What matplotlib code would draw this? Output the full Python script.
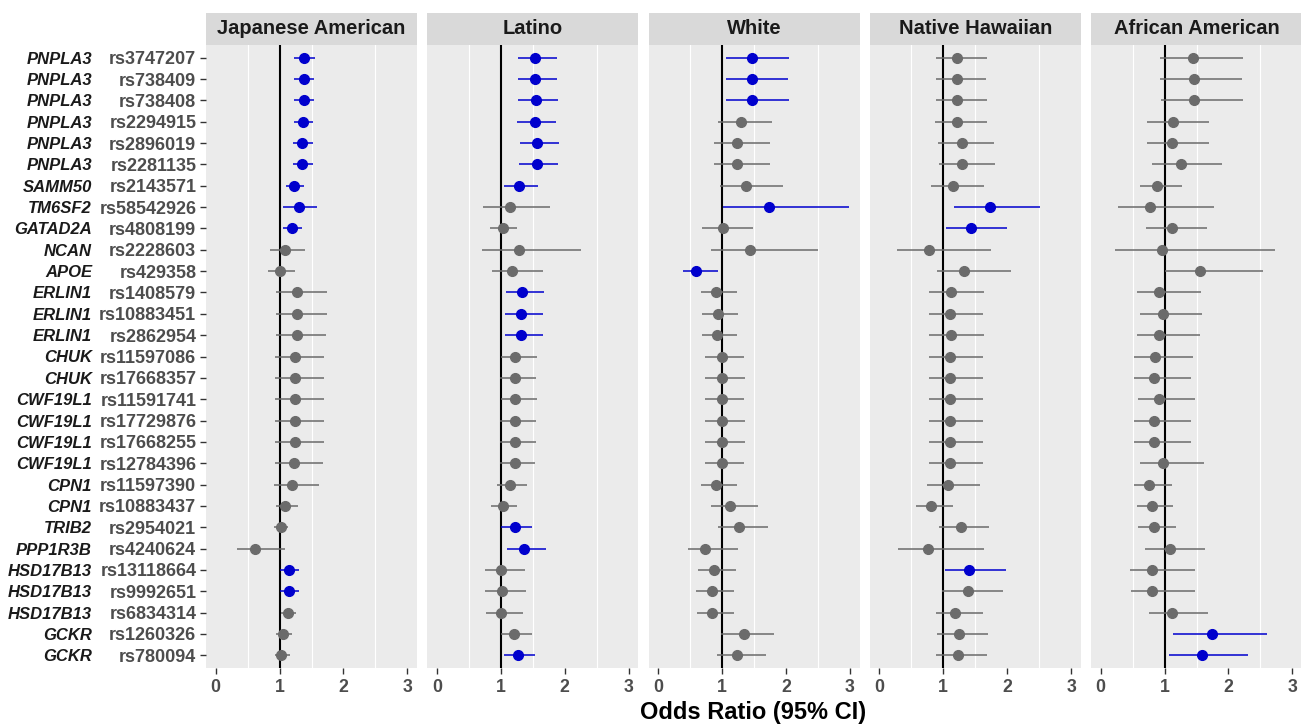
import matplotlib
matplotlib.use("Agg")
import matplotlib.pyplot as plt
from matplotlib.patches import Rectangle

plt.rcParams['font.family'] = ['Liberation Sans', 'DejaVu Sans']

genes = ["PNPLA3", "PNPLA3", "PNPLA3", "PNPLA3", "PNPLA3", "PNPLA3", "SAMM50", "TM6SF2",
         "GATAD2A", "NCAN", "APOE", "ERLIN1", "ERLIN1", "ERLIN1", "CHUK", "CHUK",
         "CWF19L1", "CWF19L1", "CWF19L1", "CWF19L1", "CPN1", "CPN1", "TRIB2", "PPP1R3B",
         "HSD17B13", "HSD17B13", "HSD17B13", "GCKR", "GCKR"]
snps = ["rs3747207", "rs738409", "rs738408", "rs2294915", "rs2896019", "rs2281135", "rs2143571",
        "rs58542926", "rs4808199", "rs2228603", "rs429358", "rs1408579", "rs10883451", "rs2862954",
        "rs11597086", "rs17668357", "rs11591741", "rs17729876", "rs17668255", "rs12784396",
        "rs11597390", "rs10883437", "rs2954021", "rs4240624", "rs13118664", "rs9992651",
        "rs6834314", "rs1260326", "rs780094"]

populations = ["Japanese American", "Latino", "White", "Native Hawaiian", "African American"]

or_ja = [1.375, 1.375, 1.375, 1.36, 1.35, 1.35, 1.22, 1.30, 1.19, 1.09, 1.01, 1.28, 1.27, 1.27, 1.24,
         1.24, 1.24, 1.24, 1.24, 1.23, 1.20, 1.09, 1.02, 0.61, 1.15, 1.15, 1.13, 1.05, 1.03]
lo_ja = [1.23, 1.23, 1.23, 1.22, 1.21, 1.21, 1.10, 1.06, 1.06, 0.85, 0.82, 0.95, 0.95, 0.95, 0.93,
         0.93, 0.93, 0.93, 0.93, 0.93, 0.91, 0.95, 0.92, 0.33, 1.00, 1.00, 1.03, 0.94, 0.93]
hi_ja = [1.55, 1.54, 1.54, 1.52, 1.52, 1.52, 1.375, 1.59, 1.35, 1.40, 1.24, 1.74, 1.74, 1.73, 1.69,
         1.69, 1.69, 1.69, 1.69, 1.68, 1.61, 1.29, 1.13, 1.08, 1.30, 1.30, 1.26, 1.19, 1.17]
sig_ja = [1, 1, 1, 1, 1, 1, 1, 1, 1, 0, 0, 0, 0, 0, 0, 0, 0, 0, 0, 0, 0, 0, 0, 0, 1, 1, 0, 0, 0]

or_la = [1.54, 1.54, 1.55, 1.53, 1.57, 1.56, 1.29, 1.14, 1.03, 1.29, 1.18, 1.33, 1.32, 1.32, 1.23,
         1.22, 1.23, 1.23, 1.22, 1.22, 1.15, 1.03, 1.22, 1.36, 1.00, 1.02, 1.01, 1.21, 1.27]
lo_la = [1.27, 1.27, 1.27, 1.26, 1.30, 1.28, 1.05, 0.72, 0.83, 0.70, 0.87, 1.08, 1.06, 1.06, 1.00,
         0.99, 1.00, 0.99, 0.99, 0.99, 0.94, 0.84, 1.01, 1.09, 0.75, 0.75, 0.77, 1.00, 1.05]
hi_la = [1.88, 1.88, 1.89, 1.87, 1.91, 1.90, 1.58, 1.77, 1.26, 2.25, 1.66, 1.67, 1.66, 1.66, 1.56,
         1.55, 1.57, 1.55, 1.55, 1.54, 1.41, 1.25, 1.49, 1.70, 1.38, 1.39, 1.35, 1.49, 1.54]
sig_la = [1, 1, 1, 1, 1, 1, 1, 0, 0, 0, 0, 1, 1, 1, 0, 0, 0, 0, 0, 0, 0, 0, 1, 1, 0, 0, 0, 0, 1]

or_wh = [1.47, 1.47, 1.47, 1.30, 1.23, 1.23, 1.38, 1.74, 1.02, 1.43, 0.60, 0.91, 0.93, 0.92, 1.00,
         1.00, 1.00, 1.00, 1.00, 1.00, 0.91, 1.13, 1.26, 0.74, 0.87, 0.84, 0.84, 1.35, 1.24]
lo_wh = [1.06, 1.06, 1.06, 0.94, 0.87, 0.87, 0.97, 1.02, 0.69, 0.82, 0.39, 0.67, 0.69, 0.69, 0.74,
         0.74, 0.74, 0.74, 0.74, 0.74, 0.67, 0.83, 0.94, 0.46, 0.62, 0.60, 0.61, 0.98, 0.92]
hi_wh = [2.04, 2.03, 2.05, 1.78, 1.75, 1.75, 1.96, 2.99, 1.49, 2.50, 0.94, 1.23, 1.25, 1.23, 1.35,
         1.36, 1.34, 1.36, 1.36, 1.34, 1.23, 1.56, 1.72, 1.25, 1.22, 1.19, 1.18, 1.82, 1.68]
sig_wh = [1, 1, 1, 0, 0, 0, 0, 1, 0, 0, 1, 0, 0, 0, 0, 0, 0, 0, 0, 0, 0, 0, 0, 0, 0, 0, 0, 0, 0]

or_nh = [1.22, 1.22, 1.22, 1.21, 1.29, 1.30, 1.15, 1.73, 1.44, 0.77, 1.33, 1.12, 1.10, 1.12, 1.11,
         1.11, 1.11, 1.11, 1.11, 1.11, 1.08, 0.81, 1.28, 0.76, 1.41, 1.38, 1.19, 1.24, 1.23]
lo_nh = [0.88, 0.88, 0.88, 0.87, 0.92, 0.93, 0.81, 1.16, 1.04, 0.27, 0.90, 0.78, 0.77, 0.78, 0.77,
         0.77, 0.77, 0.77, 0.77, 0.77, 0.75, 0.58, 0.94, 0.29, 1.02, 0.98, 0.88, 0.90, 0.89]
hi_nh = [1.68, 1.67, 1.68, 1.68, 1.80, 1.81, 1.63, 2.51, 1.99, 1.75, 2.06, 1.64, 1.62, 1.63, 1.62,
         1.62, 1.62, 1.62, 1.62, 1.62, 1.58, 1.15, 1.72, 1.64, 1.98, 1.93, 1.62, 1.70, 1.68]
sig_nh = [0, 0, 0, 0, 0, 0, 0, 1, 1, 0, 0, 0, 0, 0, 0, 0, 0, 0, 0, 0, 0, 0, 0, 0, 1, 0, 0, 0, 0]

or_aa = [1.45, 1.46, 1.46, 1.13, 1.11, 1.25, 0.89, 0.78, 1.11, 0.96, 1.55, 0.92, 0.97, 0.92, 0.85,
         0.84, 0.91, 0.84, 0.84, 0.97, 0.76, 0.81, 0.84, 1.09, 0.80, 0.80, 1.11, 1.74, 1.58]
lo_aa = [0.93, 0.93, 0.94, 0.73, 0.72, 0.80, 0.61, 0.27, 0.71, 0.23, 1.00, 0.57, 0.62, 0.57, 0.52,
         0.52, 0.58, 0.52, 0.52, 0.61, 0.53, 0.57, 0.59, 0.69, 0.46, 0.47, 0.75, 1.13, 1.07]
hi_aa = [2.22, 2.21, 2.23, 1.70, 1.69, 1.90, 1.27, 1.77, 1.66, 2.72, 2.54, 1.57, 1.59, 1.55, 1.44,
         1.42, 1.48, 1.42, 1.42, 1.61, 1.11, 1.14, 1.18, 1.64, 1.48, 1.48, 1.68, 2.60, 2.30]
sig_aa = [0, 0, 0, 0, 0, 0, 0, 0, 0, 0, 0, 0, 0, 0, 0, 0, 0, 0, 0, 0, 0, 0, 0, 0, 0, 0, 0, 1, 1]

xticks = [0, 1, 2, 3]
xlabel = "Odds Ratio (95% CI)"

panel_data = [
    (or_ja, lo_ja, hi_ja, sig_ja),
    (or_la, lo_la, hi_la, sig_la),
    (or_wh, lo_wh, hi_wh, sig_wh),
    (or_nh, lo_nh, hi_nh, sig_nh),
    (or_aa, lo_aa, hi_aa, sig_aa),
]

BLUE = "#0000CD"
GRAY = "#6B6B6B"
W, H = 1301, 725
fig = plt.figure(figsize=(W / 100, H / 100), dpi=100)

n = len(snps)
ypos = list(range(n, 0, -1))

panel_left0 = 206
panel_step = 221.25
panel_w = 211
top_px = 45
bot_px = 668
strip_h = 32

for i, (pop, (ors, los, his, sig)) in enumerate(zip(populations, panel_data)):
    left = panel_left0 + i * panel_step
    ax = fig.add_axes([left / W, 1 - bot_px / H, panel_w / W, (bot_px - top_px) / H])
    ax.set_facecolor("#EBEBEB")
    for s in ax.spines.values():
        s.set_visible(False)
    ax.set_xlim(-0.15, 3.15)
    ax.set_ylim(0.4, n + 0.6)
    for g in [0.5, 1.5, 2.5]:
        ax.axvline(g, color="white", lw=0.8, zorder=0)
    ax.axvline(1, color="black", lw=1.5, zorder=1)
    for y, o, l, h, s in zip(ypos, ors, los, his, sig):
        c = BLUE if s else GRAY
        ax.hlines(y, l, h, color=c, lw=1.1, zorder=2)
        ax.plot([o], [y], marker="o", ms=7, color=c, mec=c, zorder=3, ls="none")
    ax.set_xticks(xticks)
    ax.set_xticklabels([str(t) for t in xticks], fontsize=12.8, fontweight="bold", color="#4D4D4D")
    ax.tick_params(axis="x", length=4, width=1, color="#333333", pad=4)
    if i == 0:
        ax.set_yticks(ypos)
        ax.set_yticklabels(snps, fontsize=13, fontweight="bold", color="#4D4D4D")
        ax.tick_params(axis="y", length=4, width=1, color="#333333", pad=3)
        for y, gname in zip(ypos, genes):
            ax.text(-114 / panel_w, y, gname, transform=ax.get_yaxis_transform(),
                    ha="right", va="center_baseline", fontsize=12, fontweight="bold",
                    fontstyle="italic", color="#1A1A1A")
    else:
        ax.set_yticks([])
    # strip
    rect = Rectangle((0, 1), 1, strip_h / (bot_px - top_px), transform=ax.transAxes,
                     facecolor="#D9D9D9", edgecolor="none", clip_on=False)
    ax.add_patch(rect)
    ax.text(0.5, 1 + (strip_h / 2) / (bot_px - top_px), pop, transform=ax.transAxes,
            ha="center", va="center", fontsize=14.5, fontweight="bold", color="#1A1A1A")

fig.text(753 / W, 1 - 713 / H, xlabel, ha="center", va="center", fontsize=17,
         fontweight="bold", color="black")

fig.savefig("out.png", dpi=100, facecolor="white")
